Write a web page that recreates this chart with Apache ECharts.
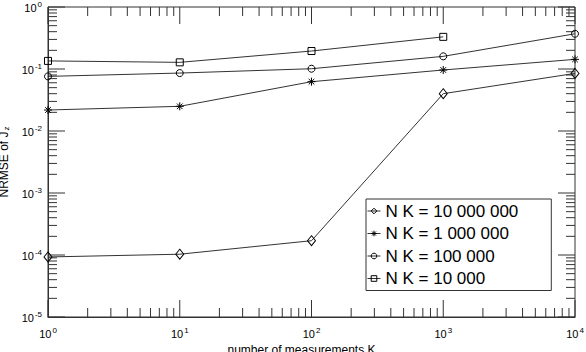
<!DOCTYPE html>
<html>
<head>
<meta charset="utf-8">
<script src="https://cdn.jsdelivr.net/npm/echarts@6/dist/echarts.min.js"></script>
<style>
html, body { margin: 0; padding: 0; background: #fff; }
#chart { width: 586px; height: 352px; }
</style>
</head>
<body>
<div id="chart"></div>
<script>
// number of measurements K
const measurements = [1, 10, 100, 1000, 10000]
// NRMSE of Jz for each N K
const nk10M = [9.3e-5, 1.03e-4, 1.7e-4, 0.040, 0.085]
const nk1M = [0.0218, 0.025, 0.0624, 0.0964, 0.143]
const nk100k = [0.076, 0.086, 0.101, 0.160, 0.37]
const nk10k = [0.135, 0.128, 0.195, 0.33]
const seriesNames = ['N K = 10 000 000', 'N K = 1 000 000', 'N K = 100 000', 'N K = 10 000']
// decade exponents of the tick labels
const xExponents = [0, 1, 2, 3, 4]
const yExponents = [-5, -4, -3, -2, -1, 0]

const xMin = Math.pow(10, xExponents[0])
const xMax = Math.pow(10, xExponents[xExponents.length - 1])
const yMin = Math.pow(10, yExponents[0])
const yMax = Math.pow(10, yExponents[yExponents.length - 1])

const W = 586, H = 352
const grid = { left: 48, right: 11, top: 7, bottom: 35 }
const plotW = W - grid.left - grid.right
const plotH = H - grid.top - grid.bottom

// [value, tick length in px] for the 2..9 minor ticks and the decade ticks
function ticks(exps) {
  const out = []
  for (let i = 0; i < exps.length; i++) {
    const d = Math.pow(10, exps[i])
    out.push([d, 17])
    if (i < exps.length - 1) {
      for (let m = 2; m <= 9; m++) out.push([m * d, 9])
    }
  }
  return out
}

const axisColor = '#333'
const font = 'Liberation Sans, Arial, sans-serif'

const powRich = {
  b: { fontSize: 11, lineHeight: 12, verticalAlign: 'bottom', color: '#000', fontFamily: font },
  s: { fontSize: 8, lineHeight: 8, padding: [0, 0, 5, 1], verticalAlign: 'bottom', color: '#000', fontFamily: font }
}
function powLabel(v) {
  return '{b|10}{s|' + Math.round(Math.log10(v)) + '}'
}

function logAxis(min, max, extra) {
  return Object.assign({
    type: 'log',
    logBase: 10,
    min: min,
    max: max,
    axisLine: { show: true, onZero: false, lineStyle: { color: axisColor, width: 1 } },
    axisTick: { show: false },
    splitLine: { show: false },
    minorTick: { show: false }
  }, extra)
}

const lineStyle = { color: '#333', width: 1 }
const markStyle = { color: 'rgba(255,255,255,0)', borderColor: '#000', borderWidth: 1 }
const legendMark = { color: 'none', borderColor: '#000', borderWidth: 1 }
const asterisk = 'path://M5,0L5,10M0,5L10,5M1.5,1.5L8.5,8.5M8.5,1.5L1.5,8.5'

function makeSeries(name, values, symbol, size) {
  return {
    name: name,
    type: 'line',
    data: values.map((v, i) => [measurements[i], v]),
    symbol: symbol,
    symbolSize: size,
    showSymbol: true,
    clip: false,
    lineStyle: lineStyle,
    itemStyle: markStyle,
    emphasis: { disabled: true },
    z: 3
  }
}

// a tick drawn as a tiny two-point line series on the log axes;
// its far end is moved by len px in log space
function tickSeries(p1, p2) {
  return {
    name: 'tick',
    type: 'line',
    data: [p1, p2],
    symbol: 'none',
    showSymbol: false,
    silent: true,
    clip: false,
    lineStyle: { color: axisColor, width: 1 },
    emphasis: { disabled: true },
    z: 2
  }
}
const yDecades = Math.log10(yMax) - Math.log10(yMin)
const xDecades = Math.log10(xMax) - Math.log10(xMin)
const tickSeriesList = []
ticks(xExponents).forEach(function (t) {
  const dy = t[1] / plotH * yDecades
  tickSeriesList.push(tickSeries([t[0], yMin], [t[0], yMin * Math.pow(10, dy)]))
  tickSeriesList.push(tickSeries([t[0], yMax], [t[0], yMax / Math.pow(10, dy)]))
})
ticks(yExponents).forEach(function (t) {
  const dx = t[1] / plotW * xDecades
  tickSeriesList.push(tickSeries([xMin, t[0]], [xMin * Math.pow(10, dx), t[0]]))
  tickSeriesList.push(tickSeries([xMax, t[0]], [xMax / Math.pow(10, dx), t[0]]))
})

const myChart = echarts.init(document.getElementById('chart'), null, { renderer: 'svg' })

const option = {
  animation: false,
  grid: Object.assign({}, grid, {
    outerBoundsMode: 'none',
    show: true,
    borderColor: axisColor,
    borderWidth: 1,
    backgroundColor: 'rgba(0,0,0,0)'
  }),
  legend: {
    data: seriesNames.map(n => ({ name: n, itemStyle: legendMark })),
    orient: 'vertical',
    left: 366,
    top: 199,
    padding: [3, 33, 3, 1],
    itemGap: 4.5,
    itemWidth: 13,
    itemHeight: 7,
    borderColor: '#333',
    borderWidth: 1,
    backgroundColor: '#fff',
    itemStyle: legendMark,
    lineStyle: { color: '#333', width: 1 },
    textStyle: { fontSize: 17, lineHeight: 18, color: '#000', fontFamily: font }
  },
  xAxis: logAxis(xMin, xMax, {
    position: 'bottom',
    name: 'number of measurements K',
    nameLocation: 'middle',
    nameGap: 26,
    nameTextStyle: { fontSize: 12, color: '#000', fontFamily: font, padding: [0, 20, 0, 0] },
    axisLabel: { show: true, margin: 10, formatter: powLabel, rich: powRich }
  }),
  yAxis: logAxis(yMin, yMax, {
    position: 'left',
    name: '{a|NRMSE of J}{z|z}',
    nameLocation: 'middle',
    nameGap: 37,
    nameTextStyle: {
      rich: {
        a: { fontSize: 12, lineHeight: 13, verticalAlign: 'top', color: '#000', fontFamily: font },
        z: { fontSize: 8, lineHeight: 8, padding: [5, 0, 0, 1], verticalAlign: 'top', color: '#000', fontFamily: font }
      }
    },
    axisLabel: { show: true, margin: 6, formatter: powLabel, rich: powRich }
  }),
  series: [
    makeSeries(seriesNames[0], nk10M, 'diamond', [8, 10]),
    makeSeries(seriesNames[1], nk1M, asterisk, 8),
    makeSeries(seriesNames[2], nk100k, 'circle', 7),
    makeSeries(seriesNames[3], nk10k, 'rect', 7)
  ].concat(tickSeriesList)
}

option && myChart.setOption(option)
</script>
</body>
</html>
